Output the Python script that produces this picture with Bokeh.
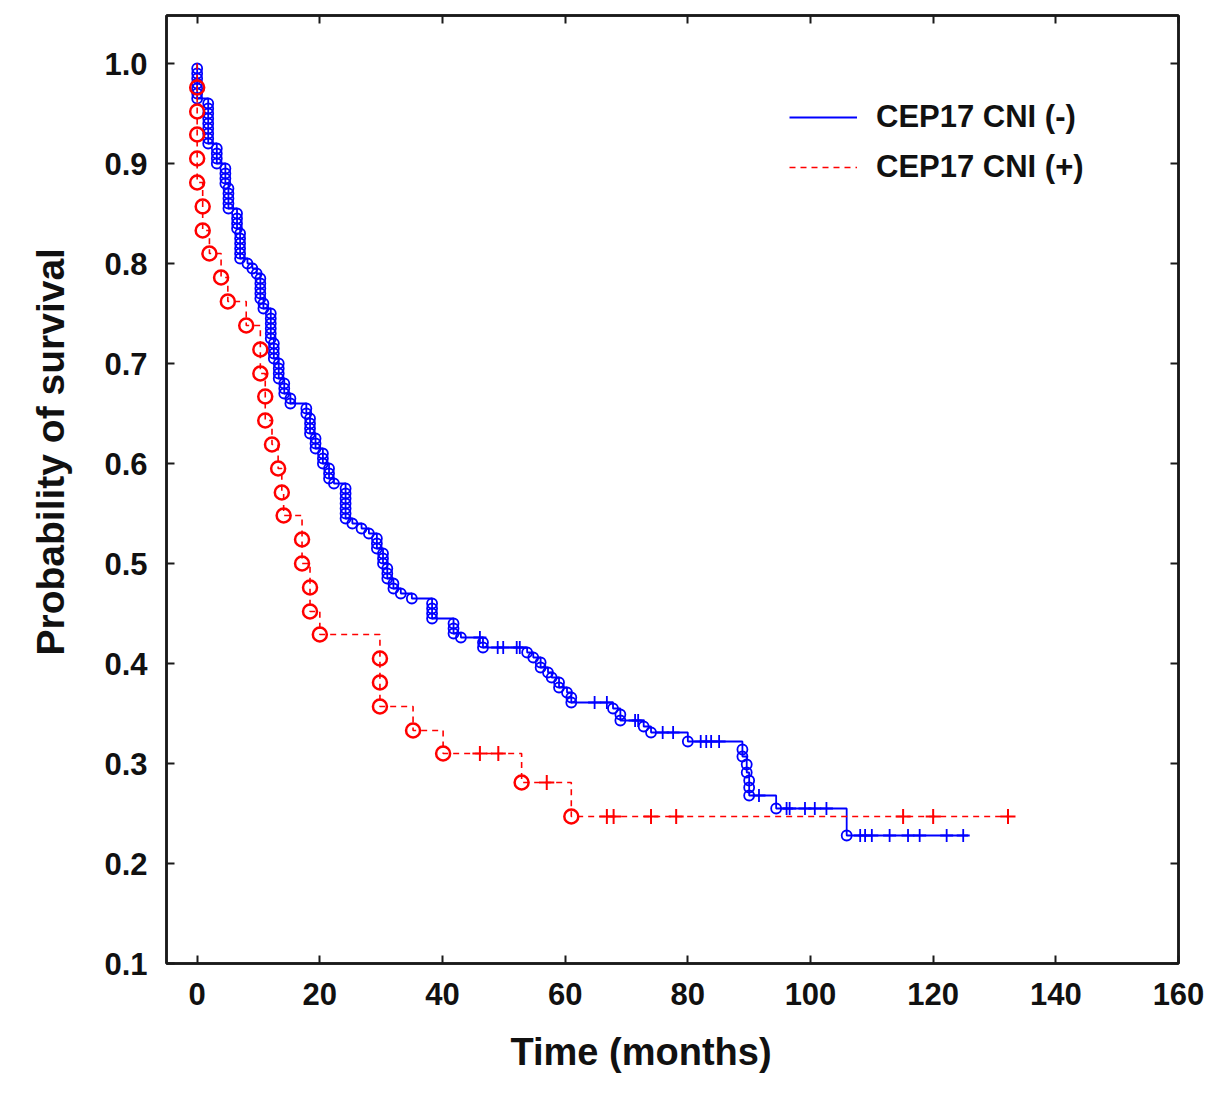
import numpy as np
from bokeh.plotting import figure
from bokeh.models import (Range1d, LinearAxis, FixedTicker, Legend, LegendItem,
                          NumeralTickFormatter, Title)
from bokeh.embed import file_html
from bokeh.resources import INLINE

# CEP17 CNI (-) : event times (months) and survival after each event
blue_t = [0, 0, 0, 0, 0, 0, 0,
          1.8, 1.8, 1.8, 1.8, 1.8, 1.8, 1.8, 1.8, 1.8,
          3.2, 3.2, 3.2, 3.2,
          4.6, 4.6, 4.6, 4.6,
          5.1, 5.1, 5.1, 5.1, 5.1,
          6.5, 6.5, 6.5, 6.5,
          7.0, 7.0, 7.0, 7.0, 7.0, 7.0,
          8.2, 9.0, 9.7,
          10.3, 10.3, 10.3, 10.3, 10.3,
          10.8, 10.8,
          12.0, 12.0, 12.0, 12.0, 12.0, 12.0,
          12.5, 12.5, 12.5, 12.5,
          13.3, 13.3, 13.3, 13.3,
          14.2, 14.2, 14.2,
          15.2, 15.2,
          17.8, 17.8,
          18.4, 18.4, 18.4, 18.4,
          19.3, 19.3, 19.3,
          20.5, 20.5, 20.5,
          21.5, 21.5, 21.5,
          22.3,
          24.2, 24.2, 24.2, 24.2, 24.2, 24.2, 24.2,
          25.3, 26.8, 28.0,
          29.3, 29.3, 29.3,
          30.3, 30.3, 30.3,
          31.0, 31.0, 31.0,
          32.0, 32.0,
          33.2, 35.0,
          38.3, 38.3, 38.3, 38.3,
          41.8, 41.8, 41.8, 43.0,
          46.6, 46.6,
          53.8, 54.8, 56.0, 56.0, 57.2, 57.8, 59.0, 59.0, 60.3, 61.0, 61.0,
          67.8, 69.0, 69.0, 72.8, 74.0, 80.0,
          88.9, 88.9, 89.6, 89.6, 90.0, 90.0, 90.0,
          94.4, 105.9]
blue_s = [0.995, 0.990, 0.985, 0.980, 0.975, 0.970, 0.965,
          0.960, 0.955, 0.950, 0.945, 0.940, 0.935, 0.930, 0.925, 0.920,
          0.915, 0.910, 0.905, 0.900,
          0.895, 0.890, 0.885, 0.880,
          0.875, 0.870, 0.865, 0.860, 0.855,
          0.850, 0.845, 0.840, 0.835,
          0.830, 0.825, 0.820, 0.815, 0.810, 0.805,
          0.800, 0.795, 0.790,
          0.785, 0.780, 0.775, 0.770, 0.765,
          0.760, 0.755,
          0.750, 0.745, 0.740, 0.735, 0.730, 0.725,
          0.720, 0.715, 0.710, 0.705,
          0.700, 0.695, 0.690, 0.685,
          0.680, 0.675, 0.670,
          0.665, 0.660,
          0.655, 0.650,
          0.645, 0.640, 0.635, 0.630,
          0.625, 0.620, 0.615,
          0.610, 0.605, 0.600,
          0.595, 0.590, 0.585,
          0.580,
          0.575, 0.570, 0.565, 0.560, 0.555, 0.550, 0.545,
          0.540, 0.535, 0.530,
          0.525, 0.520, 0.515,
          0.510, 0.505, 0.500,
          0.495, 0.490, 0.485,
          0.480, 0.475,
          0.470, 0.465,
          0.460, 0.455, 0.450, 0.445,
          0.440, 0.435, 0.430, 0.426,
          0.421, 0.416,
          0.411, 0.406, 0.401, 0.396, 0.391, 0.386, 0.381, 0.376, 0.371, 0.366, 0.361,
          0.355, 0.349, 0.343, 0.337, 0.331, 0.322,
          0.314, 0.307, 0.299, 0.291, 0.283, 0.276, 0.268,
          0.255, 0.228]
blue_censor = [46.1, 49.0, 49.9, 52.1, 52.6, 64.8, 66.8, 71.4, 71.9, 75.9, 77.6,
               82.1, 83.0, 83.8, 85.1, 91.6, 96.1, 96.6, 99.1, 100.7, 102.6,
               108.1, 108.9, 110.0, 112.9, 115.9, 117.8, 122.2, 124.9]
blue_end = 125.7

# CEP17 CNI (+)
red_t = [0, 0, 0, 0, 0, 0.9, 0.9, 2.0, 3.9, 5.0, 8.0, 10.3, 10.3, 11.1, 11.1,
         12.2, 13.2, 13.8, 14.1, 17.1, 17.1, 18.4, 18.4, 20.0,
         29.8, 29.8, 29.8, 35.2, 40.1, 52.9, 61.0]
red_s = [0.976, 0.952, 0.929, 0.905, 0.881, 0.857, 0.833, 0.810, 0.786, 0.762,
         0.738, 0.714, 0.690, 0.667, 0.643, 0.619, 0.595, 0.571, 0.548, 0.524,
         0.500, 0.476, 0.452, 0.429, 0.405, 0.381, 0.357, 0.333, 0.310, 0.281, 0.247]
red_censor = [46.1, 49.1, 57.0, 66.8, 67.9, 74.0, 78.1, 115.1, 120.0, 132.2]
red_end = 132.2

x_ticks = [0, 20, 40, 60, 80, 100, 120, 140, 160]
y_ticks = [0.1, 0.2, 0.3, 0.4, 0.5, 0.6, 0.7, 0.8, 0.9, 1.0]

FONT = "Liberation Sans"
INK = "#1a1a1a"


def curve(times, survs, end):
    xs = [0] + list(times) + [end]
    ys = [1.0] + list(survs) + [survs[-1]]
    return xs, ys


def surv_at(times, survs, cens):
    idx = np.searchsorted(np.array(times), np.array(cens), side="right") - 1
    return [survs[i] if i >= 0 else 1.0 for i in idx]


p = figure(width=1204, height=1093, output_backend="svg", toolbar_location=None,
           x_range=Range1d(-5, 160), y_range=Range1d(0.1, 1.048),
           min_border_left=166, min_border_right=26, min_border_top=15, min_border_bottom=130)
p.grid.visible = False
p.outline_line_color = INK
p.outline_line_width = 2.5

for ax in (p.xaxis[0], p.yaxis[0]):
    ax.major_tick_in = 8
    ax.major_tick_out = 0
    ax.minor_tick_line_color = None
    ax.axis_line_width = 2.5
    ax.axis_line_color = INK
    ax.major_tick_line_width = 2
    ax.major_tick_line_color = INK
    ax.major_label_text_font = FONT
    ax.major_label_text_font_style = "bold"
    ax.major_label_text_font_size = "31px"
    ax.major_label_text_color = "#111111"

p.xaxis.ticker = FixedTicker(ticks=x_ticks)
p.yaxis.ticker = FixedTicker(ticks=y_ticks)
p.yaxis.formatter = NumeralTickFormatter(format="0.0")
p.xaxis.major_label_standoff = 19
p.yaxis.major_label_standoff = 19

# axis titles: in the original they sit off-centre, so they are placed as titles
xtitle = Title(text="Time (months)", align="left", offset=344, standoff=42,
               text_font=FONT, text_font_style="bold", text_font_size="38px",
               text_color="#111111")
ytitle = Title(text="Probability of survival", align="left", offset=308, standoff=55,
               vertical_align="top",
               text_font=FONT, text_font_style="bold", text_font_size="39px",
               text_color="#111111")
p.add_layout(xtitle, "below")
p.add_layout(ytitle, "left")

# tick marks on the top and right edges of the frame, no labels
for ticks, side in ((x_ticks, "above"), (y_ticks, "right")):
    ax = LinearAxis(ticker=FixedTicker(ticks=ticks), major_tick_in=8, major_tick_out=0,
                    minor_tick_line_color=None, major_label_text_color=None,
                    major_label_text_font_size="1px", major_label_standoff=0,
                    axis_line_width=2.5, axis_line_color=INK,
                    major_tick_line_width=2, major_tick_line_color=INK)
    p.add_layout(ax, side)

BLUE = "#0000ff"
RED = "#ff0000"

bx, by = curve(blue_t, blue_s, blue_end)
blue_line = p.step(bx, by, mode="after", line_color=BLUE, line_width=1.8)
p.scatter(blue_t, blue_s, marker="circle", size=10, fill_color=None,
          line_color=BLUE, line_width=1.8)
p.scatter(blue_censor, surv_at(blue_t, blue_s, blue_censor), marker="cross", size=13,
          line_color=BLUE, line_width=1.8)

rx, ry = curve(red_t, red_s, red_end)
red_line = p.step(rx, ry, mode="after", line_color=RED, line_width=1.6, line_dash="6 5")
p.scatter(red_t, red_s, marker="circle", size=14, fill_color=None,
          line_color=RED, line_width=2.5)
p.scatter(red_censor, surv_at(red_t, red_s, red_censor), marker="cross", size=15,
          line_color=RED, line_width=2)

legend = Legend(items=[LegendItem(label="CEP17 CNI (-)", renderers=[blue_line]),
                       LegendItem(label="CEP17 CNI (+)", renderers=[red_line])],
                location=(623, 778), padding=5, spacing=14, glyph_width=68,
                glyph_height=30, label_height=30, label_standoff=19,
                label_text_font=FONT, label_text_font_style="bold",
                label_text_font_size="31px", label_text_color="#111111",
                border_line_color=None, background_fill_alpha=0)
p.add_layout(legend)

open("out.html", "w").write(file_html(p, INLINE))
